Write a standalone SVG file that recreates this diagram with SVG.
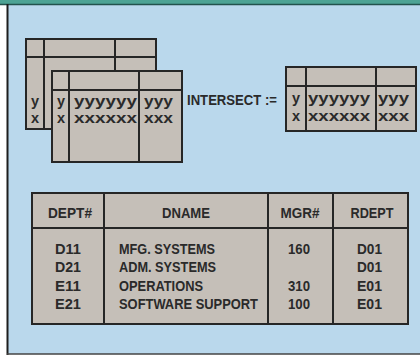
<svg xmlns="http://www.w3.org/2000/svg" width="420" height="357" viewBox="0 0 420 357">
<style>
.bg{fill:#bad8ec}
.tbl{fill:#c5bfb8;stroke:#262626;stroke-width:2}
.ln{stroke:#262626;stroke-width:2;fill:none}
.t{font-family:"Liberation Sans",Arial,sans-serif;font-weight:bold;fill:#2a2a2a}
.yx{font-size:14.5px}
.h{font-size:15px}
.d{font-size:15px}
</style>
<rect x="0" y="0" width="420" height="357" fill="#ffffff"/>
<rect x="8" y="4" width="412" height="350" class="bg"/>
<rect x="0" y="0" width="420" height="4" fill="#4da394"/>
<line x1="0" y1="4.5" x2="420" y2="4.5" stroke="#23524c" stroke-width="1.5"/>
<line x1="7.5" y1="4" x2="7.5" y2="355" stroke="#1e1e1e" stroke-width="2"/>
<line x1="7" y1="354" x2="420" y2="354" stroke="#444" stroke-width="1.5"/>

<g id="back-table">
<rect x="26" y="39" width="130" height="90" class="tbl"/>
<line x1="26" y1="57" x2="156" y2="57" class="ln"/>
<line x1="44" y1="39" x2="44" y2="129" class="ln"/>
<line x1="115" y1="39" x2="115" y2="71" class="ln"/>
<text x="35" y="106" class="t yx" text-anchor="middle">y</text>
<text x="35" y="123" class="t yx" text-anchor="middle">x</text>
</g>

<g id="front-table">
<rect x="52" y="71" width="130" height="91" class="tbl"/>
<line x1="52" y1="90" x2="182" y2="90" class="ln"/>
<line x1="69" y1="71" x2="69" y2="162" class="ln"/>
<line x1="139" y1="71" x2="139" y2="162" class="ln"/>
<text x="61" y="106" class="t yx" text-anchor="middle">y</text>
<text x="61" y="123" class="t yx" text-anchor="middle">x</text>
<text x="74" y="106" class="t yx" textLength="63" lengthAdjust="spacingAndGlyphs">yyyyyy</text>
<text x="74" y="123" class="t yx" textLength="63" lengthAdjust="spacingAndGlyphs">xxxxxx</text>
<text x="144" y="106" class="t yx" textLength="29" lengthAdjust="spacingAndGlyphs">yyy</text>
<text x="144" y="123" class="t yx" textLength="29" lengthAdjust="spacingAndGlyphs">xxx</text>
</g>

<g id="operator">
<text x="187" y="105" class="t" font-size="15" textLength="90" lengthAdjust="spacingAndGlyphs">INTERSECT  :=</text>
</g>

<g id="result-table">
<rect x="286" y="67" width="130" height="64" class="tbl"/>
<line x1="286" y1="86" x2="416" y2="86" class="ln"/>
<line x1="306" y1="67" x2="306" y2="131" class="ln"/>
<line x1="376" y1="67" x2="376" y2="131" class="ln"/>
<text x="296" y="103" class="t yx" text-anchor="middle">y</text>
<text x="296" y="121" class="t yx" text-anchor="middle">x</text>
<text x="308" y="103" class="t yx" textLength="62" lengthAdjust="spacingAndGlyphs">yyyyyy</text>
<text x="308" y="121" class="t yx" textLength="62" lengthAdjust="spacingAndGlyphs">xxxxxx</text>
<text x="378" y="103" class="t yx" textLength="31" lengthAdjust="spacingAndGlyphs">yyy</text>
<text x="378" y="121" class="t yx" textLength="31" lengthAdjust="spacingAndGlyphs">xxx</text>
</g>

<g id="dept-table">
<rect x="32" y="193" width="376" height="131" class="tbl"/>
<line x1="32" y1="228" x2="408" y2="228" class="ln"/>
<line x1="104" y1="193" x2="104" y2="324" class="ln"/>
<line x1="268" y1="193" x2="268" y2="324" class="ln"/>
<line x1="333" y1="193" x2="333" y2="324" class="ln"/>
<g class="t h" text-anchor="middle">
<text x="70" y="218" textLength="44" lengthAdjust="spacingAndGlyphs">DEPT#</text>
<text x="186" y="218" textLength="48" lengthAdjust="spacingAndGlyphs">DNAME</text>
<text x="300" y="218" textLength="39" lengthAdjust="spacingAndGlyphs">MGR#</text>
<text x="372" y="218" textLength="43" lengthAdjust="spacingAndGlyphs">RDEPT</text>
</g>
<g class="t d">
<text x="55" y="254" textLength="26" lengthAdjust="spacingAndGlyphs">D11</text>
<text x="55" y="272" textLength="26" lengthAdjust="spacingAndGlyphs">D21</text>
<text x="55" y="291" textLength="26" lengthAdjust="spacingAndGlyphs">E11</text>
<text x="55" y="309" textLength="26" lengthAdjust="spacingAndGlyphs">E21</text>
<text x="119" y="254" textLength="96" lengthAdjust="spacingAndGlyphs">MFG. SYSTEMS</text>
<text x="119" y="272" textLength="97" lengthAdjust="spacingAndGlyphs">ADM. SYSTEMS</text>
<text x="119" y="291" textLength="84" lengthAdjust="spacingAndGlyphs">OPERATIONS</text>
<text x="119" y="309" textLength="139" lengthAdjust="spacingAndGlyphs">SOFTWARE SUPPORT</text>
<text x="288" y="254" textLength="22" lengthAdjust="spacingAndGlyphs">160</text>
<text x="288" y="291" textLength="22" lengthAdjust="spacingAndGlyphs">310</text>
<text x="288" y="309" textLength="22" lengthAdjust="spacingAndGlyphs">100</text>
<text x="357" y="254" textLength="25" lengthAdjust="spacingAndGlyphs">D01</text>
<text x="357" y="272" textLength="25" lengthAdjust="spacingAndGlyphs">D01</text>
<text x="357" y="291" textLength="25" lengthAdjust="spacingAndGlyphs">E01</text>
<text x="357" y="309" textLength="25" lengthAdjust="spacingAndGlyphs">E01</text>
</g>
</g>
</svg>
